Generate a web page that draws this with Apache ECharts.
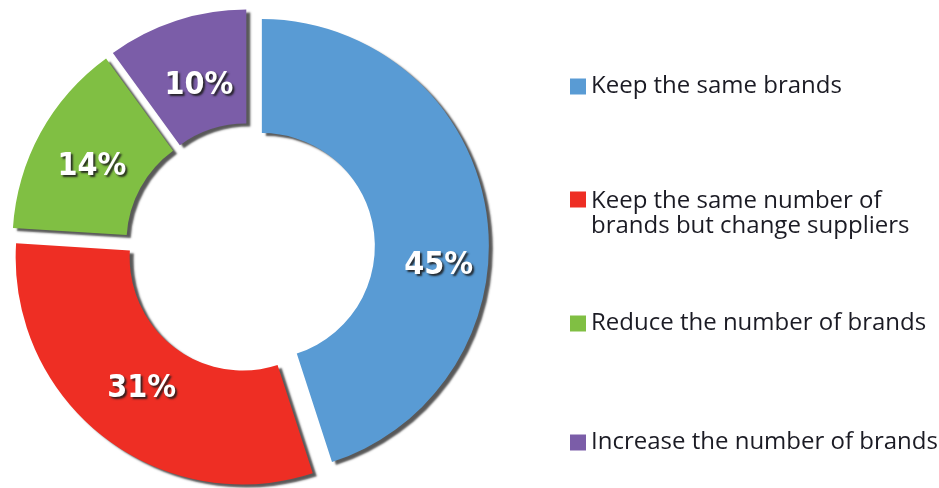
<!DOCTYPE html>
<html>
<head>
<meta charset="utf-8">
<script src="https://cdn.jsdelivr.net/npm/echarts@6/dist/echarts.min.js"></script>
<style>html,body{margin:0;padding:0;background:#fff}#c{width:939px;height:488px}</style>
</head>
<body>
<div id="c"></div>
<script>
var categories = ['Keep the same brands', 'Keep the same number of\nbrands but change suppliers', 'Reduce the number of brands', 'Increase the number of brands'];
var values = [45, 31, 14, 10];
var colors = ['#599BD4', '#EE2E24', '#80BF43', '#7B5DA8'];
var legendTops = [74, 189, 311, 430];
var labelOffsets = [[6, 47], [5, -5], [4, 8], [6, 14]];

var chart = echarts.init(document.getElementById('c'));
var data = categories.map(function (n, i) {
  return {
    name: n, value: values[i], selected: true,
    itemStyle: { color: colors[i] }
  };
});
var legends = categories.map(function (n, i) {
  var two = n.indexOf('\n') >= 0;
  return {
    data: [two ? { name: n, icon: 'path://M0,5L16,5L16,21L0,21Z M0,49.9L0.05,49.9L0.05,50L0,50Z' } : n],
    left: 570,
    top: legendTops[i],
    padding: 0,
    orient: 'vertical',
    icon: 'rect',
    itemWidth: 16,
    itemHeight: two ? 50 : 16,
    itemGap: 0,
    selectedMode: false,
    textStyle: {
      fontFamily: 'Open Sans',
      fontSize: 24,
      color: '#1b1b24',
      lineHeight: 25
    }
  };
});
chart.setOption({
  animation: false,
  legend: legends,
  series: [{
    type: 'pie',
    center: [250, 248],
    radius: [113, 227],
    startAngle: 90,
    clockwise: true,
    selectedMode: 'multiple',
    selectedOffset: 12,
    data: data,
    itemStyle: {
      shadowColor: 'rgba(60,60,60,0.85)',
      shadowBlur: 2,
      shadowOffsetX: 4,
      shadowOffsetY: 3
    },
    label: {
      position: 'inside',
      formatter: '{c}%',
      color: '#fff',
      fontFamily: '"DejaVu Sans Condensed", "DejaVu Sans", sans-serif',
      fontWeight: 'bold',
      fontSize: 32,
      textShadowColor: 'rgba(30,30,30,0.9)',
      textShadowBlur: 2,
      textShadowOffsetX: 2,
      textShadowOffsetY: 2
    },
    labelLayout: function (p) {
      var o = labelOffsets[p.dataIndex];
      return { dx: o[0], dy: o[1] };
    },
    labelLine: { show: false },
    emphasis: { disabled: true }
  }]
});
</script>
</body>
</html>
